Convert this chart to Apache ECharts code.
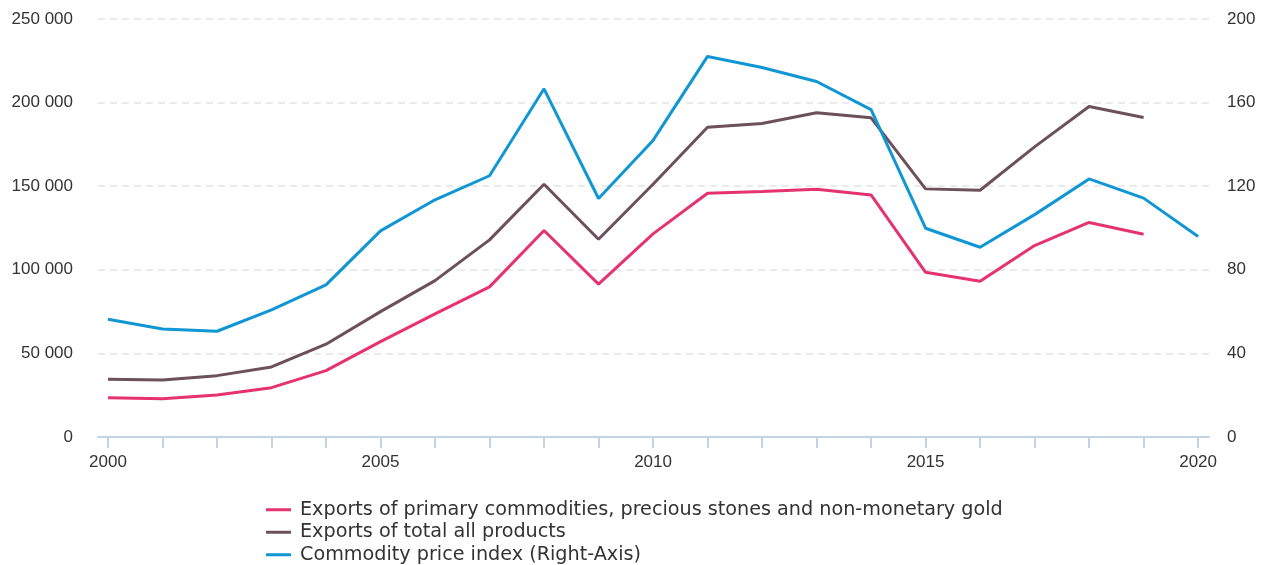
<!DOCTYPE html>
<html>
<head>
<meta charset="utf-8">
<script src="https://cdn.jsdelivr.net/npm/echarts@6/dist/echarts.min.js"></script>
<style>
html,body{margin:0;padding:0;background:#fff;}
#chart{width:1276px;height:565px;}
</style>
</head>
<body>
<div id="chart"></div>
<script>
const years = [2000,2001,2002,2003,2004,2005,2006,2007,2008,2009,2010,2011,2012,2013,2014,2015,2016,2017,2018,2019,2020];
const primaryExports = [23500,22900,25100,29500,39700,57000,73600,89800,123500,91400,121500,145800,146800,148200,144800,98500,93200,114500,128300,121300,null];
const totalExports = [34500,34100,36700,41900,55500,75000,93500,117900,151200,118300,151200,185300,187500,193900,190900,148400,147600,173500,197700,191100,null];
const priceIndex = [56.3,51.7,50.6,60.8,72.8,98.6,113.5,125.0,166.6,114.1,141.9,182.1,176.8,170.1,156.6,99.9,90.8,106.4,123.5,114.3,95.9];
const xLabelYears = [2000,2005,2010,2015,2020];
const seriesNames = [
  'Exports of primary commodities, precious stones and non-monetary gold',
  'Exports of total all products',
  'Commodity price index (Right-Axis)'
];

function pairs(vals){ return years.map((y,i)=>[y,vals[i]]).filter(p=>p[1]!==null); }
function spaceFmt(v){ return String(v).replace(/\B(?=(\d{3})+(?!\d))/g,' '); }

const axisFont = {fontFamily:'"Liberation Sans", Arial, sans-serif', fontSize:17, color:'#333'};

const chart = echarts.init(document.getElementById('chart'), null, {renderer:'canvas'});
chart.setOption({
  animation:false,
  backgroundColor:'#fff',
  grid:{left:98, right:67, top:19, bottom:128, containLabel:false},
  legend:{
    orient:'vertical', left:266, top:498.5, height:120, padding:0,
    itemWidth:25, itemHeight:3, itemGap:0,
    icon:'rect',
    textStyle:{fontFamily:'"DejaVu Sans", Verdana, sans-serif', fontSize:19.2, color:'#333', lineHeight:22.5, padding:[0,0,0,4]},
    data:seriesNames
  },
  xAxis:{
    type:'value', min:1999.817, max:2020.2,
    axisLine:{show:true, lineStyle:{color:'#c3d5e4', width:2}},
    axisTick:{show:true, length:11, customValues:years, lineStyle:{color:'#c3d5e4', width:2}},
    axisLabel:Object.assign({customValues:xLabelYears, margin:17, formatter:v=>String(v)}, axisFont),
    splitLine:{show:false}
  },
  yAxis:[
    {type:'value', min:0, max:250000, interval:50000, position:'left',
     axisLine:{show:false}, axisTick:{show:false},
     axisLabel:Object.assign({margin:25, formatter:v=>spaceFmt(v)}, axisFont),
     splitLine:{show:true, lineStyle:{color:'#e3e3e3', type:[7,5], width:1.5}}},
    {type:'value', min:0, max:200, interval:40, position:'right',
     axisLine:{show:false}, axisTick:{show:false},
     axisLabel:Object.assign({margin:18}, axisFont),
     splitLine:{show:false}}
  ],
  series:[
    {name:seriesNames[0], type:'line', yAxisIndex:0, data:pairs(primaryExports), symbol:'none', color:'#e6336f', lineStyle:{width:3}},
    {name:seriesNames[1], type:'line', yAxisIndex:0, data:pairs(totalExports), symbol:'none', color:'#6c505b', lineStyle:{width:3}},
    {name:seriesNames[2], type:'line', yAxisIndex:1, data:pairs(priceIndex), symbol:'none', color:'#1196d4', lineStyle:{width:3}}
  ]
});
</script>
</body>
</html>
